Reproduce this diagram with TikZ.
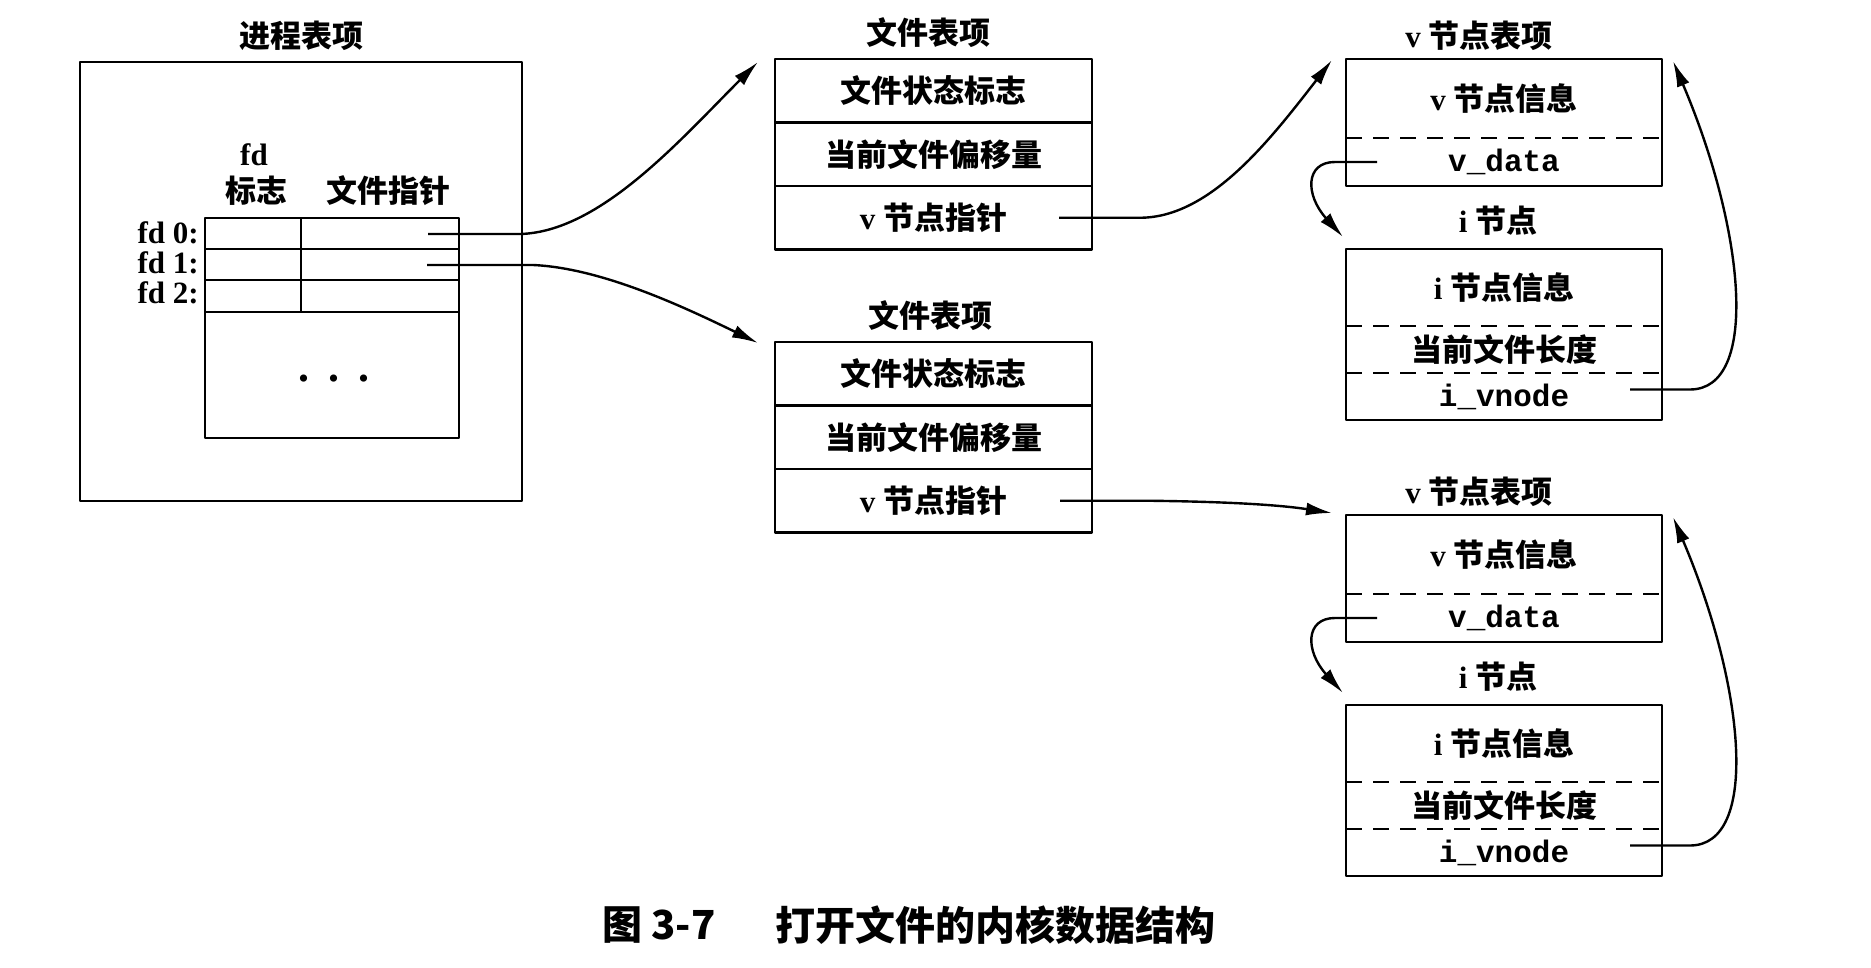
\documentclass[tikz,border=0pt]{standalone}
\usepackage{fontspec}
\setmainfont{Liberation Serif}
\setmonofont{Liberation Mono}
\newfontfamily\cjk{Noto Sans CJK SC}
\newcommand{\zhtext}[1]{{\cjk #1}}
\usetikzlibrary{arrows.meta,positioning}
\begin{document}
\begin{tikzpicture}[x=1pt, y=-1pt, line join=round, inner sep=0pt,
    font=\fontsize{31}{36}\selectfont\bfseries,
    frame/.style={line width=2.8pt},
    fcell/.style={draw, frame, minimum width=317pt, minimum height=63.5pt, outer sep=0pt},
    vcell/.style={minimum width=316pt, minimum height=#1, outer sep=0pt},
    sep/.style={line width=2.3pt, dash pattern=on 16pt off 11pt},
    link/.style={line width=2.4pt, -{Latex[length=26pt,width=13pt]}}]
  \useasboundingbox (0,0) rectangle (1871,968);
  \node (ptitle) at (301,36) {\zhtext{进程表项}};
  \draw[frame] (80,62) rectangle (522,501);
  \node (fdhead) at (254,155) {fd};
  \node (flaghead) at (256,191) {\zhtext{标志}};
  \node (ptrhead) at (388,191) {\zhtext{文件指针}};
  \draw[frame] (205,218) rectangle (459,438);
  \foreach \y in {249,280,312} \draw[frame] (205,\y) -- (459,\y);
  \draw[frame] (301,218) -- (301,312);
  \foreach \n/\y in {0/233,1/263,2/293}
    \node[anchor=east] (fd\n) at (199,\y) {fd \n:};
  \node[font=\fontsize{44}{48}\selectfont\bfseries] (dots) at (334,379) {.\hspace{19pt}.\hspace{19pt}.};
  \coordinate (p0) at (428,234);
  \coordinate (p1) at (427,265);
  % file table entries
  \node (ftitle1) at (928,33) {\zhtext{文件表项}};
  \node[fcell] (fa1) at (933.5,90.75) {\zhtext{文件状态标志}};
  \node[fcell, below=0pt of fa1] (fa2) {\zhtext{当前文件偏移量}};
  \node[fcell, below=0pt of fa2] (fa3) {v \zhtext{节点指针}};
  \node (ftitle2) at (930,316) {\zhtext{文件表项}};
  \node[fcell] (fb1) at (933.5,373.75) {\zhtext{文件状态标志}};
  \node[fcell, below=0pt of fb1] (fb2) {\zhtext{当前文件偏移量}};
  \node[fcell, below=0pt of fb2] (fb3) {v \zhtext{节点指针}};
  % v-node and i-node
  \foreach \i/\dy in {1/0,2/456}{
    \node (vtitle\i) at (1479,36+\dy) {v \zhtext{节点表项}};
    \node[vcell=79pt] (vi\i) at (1504,98.5+\dy) {v \zhtext{节点信息}};
    \node[vcell=48pt, below=0pt of vi\i] (vd\i) {\ttfamily v\_data};
    \node (ititle\i) at (1498,221+\dy) {i \zhtext{节点}};
    \node[vcell=77pt] (ii\i) at (1504,287.5+\dy) {i \zhtext{节点信息}};
    \node[vcell=47pt, below=0pt of ii\i] (il\i) {\zhtext{当前文件长度}};
    \node[vcell=47pt, below=0pt of il\i] (iv\i) {\ttfamily i\_vnode};
    \draw[frame] (vi\i.north west) rectangle (vd\i.south east);
    \draw[frame] (ii\i.north west) rectangle (iv\i.south east);
    \draw[sep] (vi\i.south west) -- (vi\i.south east);
    \draw[sep] (ii\i.south west) -- (ii\i.south east);
    \draw[sep] (il\i.south west) -- (il\i.south east);
    \draw[link] ([xshift=31pt]vd\i.west) -- ++(-42,0)
      .. controls +(-30,0) and +(-38,-42) .. ([shift={(-3,-12)}]ii\i.north west);
    \draw[link] ([shift={(-32,-7)}]iv\i.east) -- ++(60,0)
      .. controls +(70,0) and +(72,169) .. ([shift={(11,2)}]vi\i.north east);
  }
  \draw[link] (p0) -- ++(92,0) .. controls +(80,-2) and +(-78,78) .. ([shift={(-17,3)}]fa1.north west);
  \draw[link] (p1) -- ++(106,0) .. controls +(67,3) and +(-78,-38) .. ([shift={(-17,1)}]fb1.north west);
  \draw[link] ([xshift=-33pt]fa3.east) -- ++(81,0) .. controls +(70,0) and +(-62,80) .. ([shift={(-14,1)}]vi1.north west);
  \draw[link] ([xshift=-32pt]fb3.east) -- ++(90,0) .. controls +(80,1) and +(-52,-8) .. ([shift={(-14,-2)}]vi2.north west);
  \node[anchor=west, font=\fontsize{40}{44}\selectfont\bfseries] (fignum) at (602,925) {\zhtext{图 3-7}};
  \node[anchor=west, font=\fontsize{40}{44}\selectfont\bfseries] (figcap) at (775,925) {\zhtext{打开文件的内核数据结构}};
\end{tikzpicture}
\end{document}
